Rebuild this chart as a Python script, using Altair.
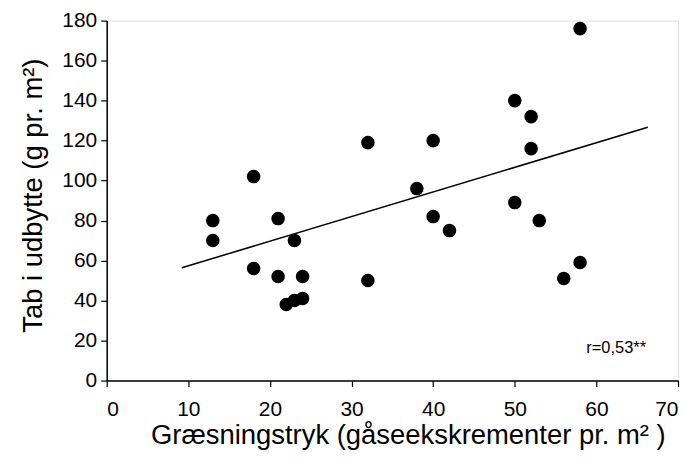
import altair as alt
import pandas as pd

# Scatter data
graes_x = [13, 13, 18, 18, 21, 21, 23, 24, 22, 23, 24, 32, 32, 38, 40, 40, 42, 50, 50, 52, 52, 53, 56, 58, 58]
tab_y = [80, 70, 102, 56, 81, 52, 70, 52, 38, 40, 41, 119, 50, 96, 120, 82, 75, 140, 89, 132, 116, 80, 51, 59, 176]

# Regression line endpoints
fit_x = [9.2, 66.3]
fit_y = [56.4, 126.7]

x_ticks = [0, 10, 20, 30, 40, 50, 60, 70]
y_ticks = [0, 20, 40, 60, 80, 100, 120, 140, 160, 180]
annotation = ["r=0,53**"]

pts = pd.DataFrame({"x": graes_x, "y": tab_y})
fit = pd.DataFrame({"x": fit_x, "y": fit_y})
ann = pd.DataFrame({"label": annotation})

FONT = "Liberation Sans"

xscale = alt.Scale(domain=[0, 70], nice=False, zero=False)
yscale = alt.Scale(domain=[0, 180], nice=False, zero=False)

xaxis = alt.Axis(values=x_ticks, title="Græsningstryk (gåseekskrementer pr. m² )",
                 grid=False, tickSize=6, labelPadding=12, titlePadding=2,
                 titleX=302, titleAlign="center",
                 domainColor="black", tickColor="black", domainWidth=1.5, tickWidth=1.2,
                 labelFontSize=21, titleFontSize=27.5, labelColor="black", titleColor="black",
                 titleFontWeight="normal", labelFont=FONT, titleFont=FONT)
yaxis = alt.Axis(values=y_ticks, title="Tab i udbytte (g pr. m²)",
                 grid=False, tickSize=6, labelPadding=4, titlePadding=14,
                 titleY=175, titleAlign="center",
                 domainColor="black", tickColor="black", domainWidth=1.5, tickWidth=1.2,
                 labelFontSize=21, titleFontSize=27.5, labelColor="black", titleColor="black",
                 titleFontWeight="normal", labelFont=FONT, titleFont=FONT)

points = alt.Chart(pts).mark_circle(size=185, color="black", opacity=1).encode(
    x=alt.X("x:Q", scale=xscale, axis=xaxis),
    y=alt.Y("y:Q", scale=yscale, axis=yaxis),
)

line = alt.Chart(fit).mark_line(color="black", strokeWidth=1.5).encode(
    x=alt.X("x:Q", scale=xscale),
    y=alt.Y("y:Q", scale=yscale),
)

text = alt.Chart(ann).mark_text(align="right", baseline="middle", fontSize=16.5,
                                font=FONT, color="black").encode(
    x=alt.value(541), y=alt.value(328), text="label:N"
)

chart = alt.layer(line, points, text).properties(
    width=573, height=361,
    autosize=alt.AutoSizeParams(type="none"),
    padding={"left": 99, "top": 12, "right": 4, "bottom": 70},
).configure_view(stroke="black", strokeWidth=1.5).configure(background="white")

chart.save("out.html", embed_options={"renderer": "svg", "actions": False})
